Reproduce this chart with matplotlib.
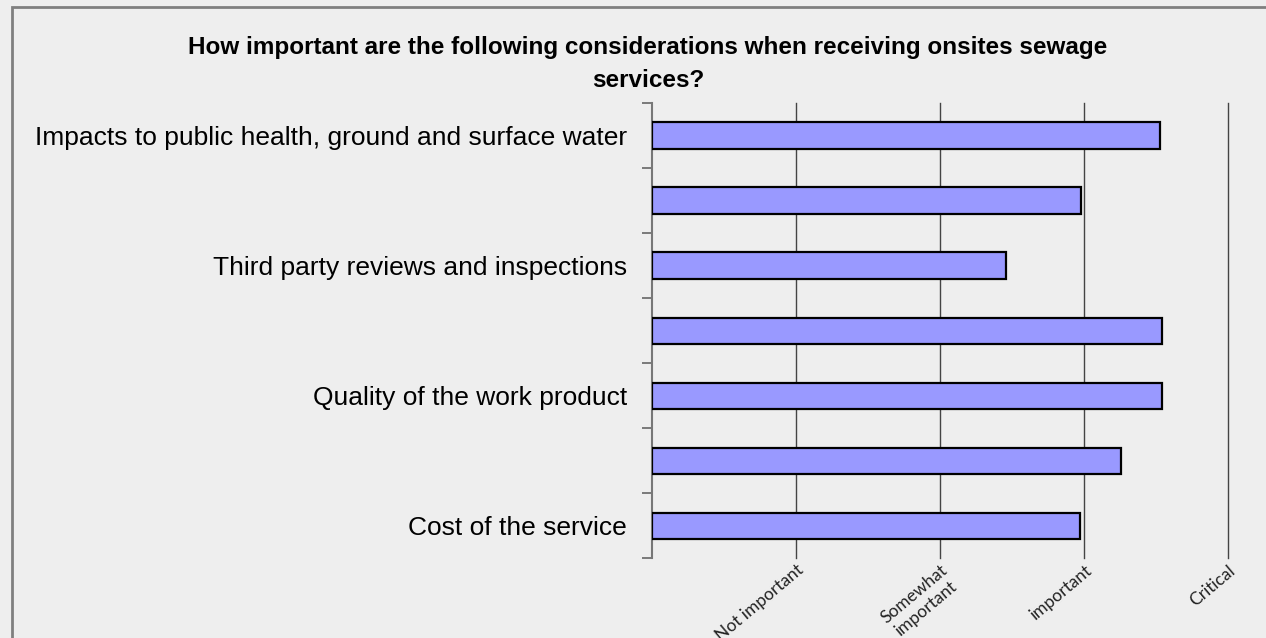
import matplotlib
matplotlib.use('Agg')
import matplotlib.pyplot as plt
from matplotlib.patches import Rectangle

# survey categories, bottom to top (unlabelled rows keep an empty label)
categories = ['Cost of the service', '', 'Quality of the work product', '',
              'Third party reviews and inspections', '',
              'Impacts to public health, ground and surface water']
scores = [2.97, 3.26, 3.54, 3.54, 2.46, 2.98, 3.53]
scale_labels = ['Not important', 'Somewhat\nimportant', 'important', 'Critical']
scale_ticks = [1, 2, 3, 4]

W, H = 1266, 638
fig = plt.figure(figsize=(W / 100, H / 100), dpi=100, facecolor='#eeeeee')
ax = fig.add_axes([652 / W, 1 - 558 / H, 576 / W, 455 / H])
ax.set_facecolor('#eeeeee')

ypos = list(range(len(categories)))
ax.barh(ypos, scores, height=0.4, color='#9999ff', edgecolor='black',
        linewidth=1.6, zorder=3)

ax.set_xlim(0, 4)
ax.set_ylim(-0.5, len(categories) - 0.5)

ax.set_xticks(scale_ticks)
ax.set_xticklabels(scale_labels, rotation=40, ha='right', va='top',
                   rotation_mode='anchor', fontsize=12.5, family='Lato',
                   color='#222222', multialignment='center')
ax.tick_params(axis='x', length=0, pad=3)
ax.grid(axis='x', color='#444444', linewidth=1, zorder=1, clip_on=False)

ax.set_yticks(ypos)
ax.set_yticklabels(categories, fontsize=19, family='Liberation Sans')
ax.set_yticks([y - 0.5 for y in ypos] + [len(categories) - 0.5], minor=True)
ax.tick_params(axis='y', which='major', length=0, pad=18)
ax.tick_params(axis='y', which='minor', length=7, width=1.2, color='#666666')

for side in ['top', 'right', 'bottom']:
    ax.spines[side].set_visible(False)
ax.spines['left'].set_color('#777777')
ax.spines['left'].set_linewidth(1.5)

fig.text(648 / W, 1 - 36 / H,
         'How important are the following considerations when receiving onsites sewage\nservices?',
         ha='center', va='top', fontsize=17.5, fontweight='bold',
         family='Liberation Sans', linespacing=1.55)

# chart frame
fig.add_artist(Rectangle((12 / W, -0.1), 1.2, 1.1 - 7 / H, transform=fig.transFigure,
                         fill=False, edgecolor='#7f7f7f', linewidth=2))

fig.savefig('out.png', dpi=100, facecolor=fig.get_facecolor())
